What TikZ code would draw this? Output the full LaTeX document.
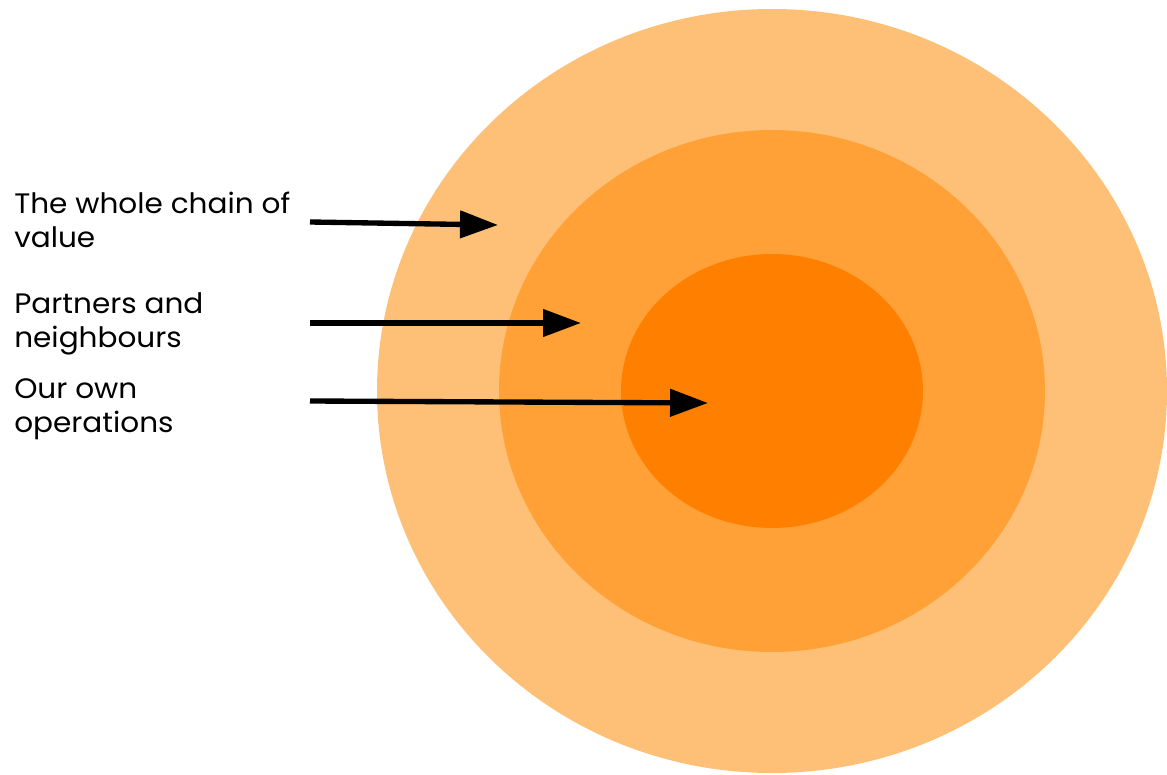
\documentclass[tikz,border=0pt]{standalone}
\usepackage{fontspec}
\setmainfont[FakeStretch=1.05]{Poppins}
\usetikzlibrary{arrows.meta, positioning}
\definecolor{ringouter}{HTML}{FEC077}
\definecolor{ringmiddle}{HTML}{FFA136}
\definecolor{ringinner}{HTML}{FF8000}

\begin{document}
\begin{tikzpicture}[x=0.025cm, y=-0.025cm, every node/.style={inner sep=0pt},
    lbl/.style={font=\fontsize{20}{24}\selectfont, anchor=base west},
    pointer/.style={line width=3.8pt, -{Triangle[length=27pt, width=19pt]}}]
  \useasboundingbox (0,0) rectangle (1167,775);
  % rings, outside in
  \fill[ringouter]  (772,391) ellipse [x radius=395, y radius=382];
  \fill[ringmiddle] (772,391) ellipse [x radius=273, y radius=261];
  \fill[ringinner]  (772,391) ellipse [x radius=151, y radius=137];
  % labels and pointers
  \foreach \n/\la/\lb/\y/\sy/\tx/\ty in {
      chain/The whole chain of/value/213/222/498/225,
      partner/Partners and/neighbours/313/323/581/323,
      own/Our own/operations/398/401/708/403}
  {
    \node[lbl] (\n-a) at (14,\y) {\la};
    \node[lbl] (\n-b) at (14,\y+34) {\lb};
    \coordinate (\n-tail) at (310,\sy);
    \coordinate (\n-tip) at (\tx,\ty);
    \draw[pointer] (\n-tail) -- (\n-tip);
  }
\end{tikzpicture}
\end{document}
